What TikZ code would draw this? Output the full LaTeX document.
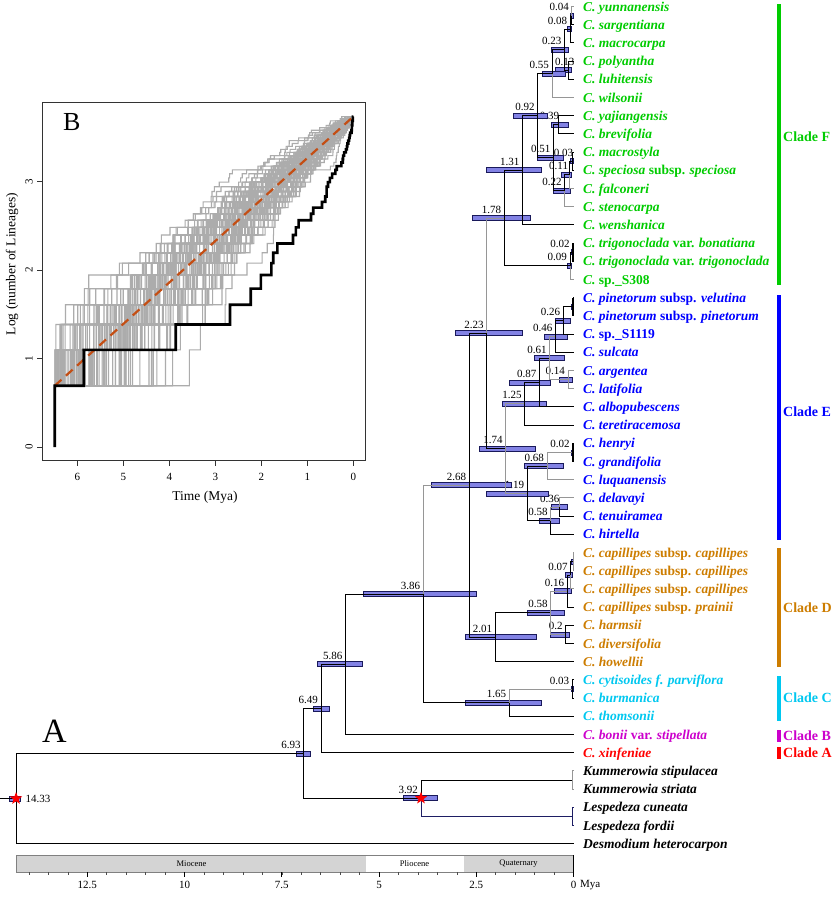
\documentclass[tikz,border=0pt]{standalone}
\usepackage{fontspec}
\setmainfont{Liberation Serif}
\usetikzlibrary{calc,shapes.geometric}
\definecolor{cladeF}{RGB}{0,204,0}
\definecolor{cladeE}{RGB}{0,0,255}
\definecolor{cladeD}{RGB}{205,125,0}
\definecolor{cladeC}{RGB}{0,200,240}
\definecolor{cladeB}{RGB}{204,0,204}
\definecolor{cladeA}{RGB}{255,0,0}
\definecolor{hpdfill}{RGB}{130,130,228}
\definecolor{hpdline}{RGB}{25,25,90}
\definecolor{brgray}{RGB}{150,150,150}
\definecolor{navyline}{RGB}{30,30,100}
\definecolor{geogray}{RGB}{212,212,212}
\definecolor{lttgray}{RGB}{172,172,172}
\definecolor{lttred}{RGB}{196,78,20}
\newcommand\up[1]{\textup{#1}}
\tikzset{
  br/.style={draw=black,line width=1pt},
  brg/.style={draw=brgray,line width=1pt},
  brn/.style={draw=navyline,line width=1pt},
  hpdst/.style={fill=hpdfill,draw=hpdline,line width=0.7pt},
  agel/.style={anchor=base east,inner sep=0pt,font=\fontsize{11}{12}\selectfont},
  tiplab/.style={anchor=base west,inner sep=0pt,xshift=9.5pt,yshift=-4.6pt,font=\fontsize{13.5}{15}\selectfont\bfseries\itshape},
  cladel/.style={anchor=west,inner sep=0pt,font=\fontsize{14}{15}\selectfont\bfseries},
  axl/.style={inner sep=0pt,font=\fontsize{11}{12}\selectfont},
  geol/.style={inner sep=0pt,font=\fontsize{8.5}{9}\selectfont},
  inl/.style={inner sep=0pt,font=\fontsize{11}{12}\selectfont},
  ttl/.style={inner sep=0pt,font=\fontsize{13.5}{15}\selectfont},
  lttline/.style={draw=lttgray,line width=1.1pt},
  redstar/.style={star,star points=5,star point ratio=2.4,fill=red,draw=none,minimum size=13pt,inner sep=0pt}
}
% optional #1 = extra x shift of the age label
\newcommand\ndx[7][0]{%
  \coordinate (#2) at ({573.5-38.9*#3},#4);
  \node[agel] (#2l) at ($(#2)+({#1-3},-5)$) {#7};
  \draw[hpdst] ({#5},{#4-2.5}) rectangle ({#6},{#4+2.5});}
\newcommand\brx[3][br]{\draw[#1] (#2) |- (#3);}
\newcommand\tipx[4]{%
  \coordinate (t#1) at (573.5,{6.5+(#1-1)*18.2});
  \node[tiplab,#2] (l#1) at (t#1) {#3#4};}
\newcommand\lttcurve{%
  \gdef\lttsum{0}%
  \foreach \k in {1,...,41}{%
    \pgfmathparse{-ln(0.0005+0.999*rnd)}%
    \global\expandafter\let\csname lttE\k\endcsname\pgfmathresult
    \pgfmathparse{\lttsum+\pgfmathresult}%
    \global\let\lttsum\pgfmathresult}%
  \gdef\lttcum{0}%
  \xdef\lttpath{(6.49,0.6931)}%
  \foreach \k in {1,...,40}{%
    \expandafter\let\expandafter\lttEk\csname lttE\k\endcsname
    \pgfmathparse{\lttcum+\lttEk}%
    \global\let\lttcum\pgfmathresult
    \pgfmathsetmacro\ltts{6.49*(1-ln(1+20*\lttcum/\lttsum)/ln(21))}%
    \pgfmathsetmacro\lttla{ln(\k+1)}%
    \pgfmathsetmacro\lttlb{ln(\k+2)}%
    \xdef\lttpath{\lttpath -- (\ltts,\lttla) -- (\ltts,\lttlb)}}%
  \draw[lttline] \lttpath -- (0,3.7377);}
\begin{document}
\begin{tikzpicture}[x=1pt,y=-1pt]
\useasboundingbox (0,0) rectangle (834,899);
\fill[white] (0,0) rectangle (834,899);
% ================= inset B =================
\begin{scope}[shift={(353.3,447)},x=-46pt,y=88.4pt]
  \pgfmathsetseed{4242}
  \foreach \c in {1,...,100}{\lttcurve}
  \draw[lttred,line width=2.2pt,dash pattern=on 9pt off 6pt] (6.49,0.6931) -- (0,3.7377);
  \xdef\lttpath{(6.49,0) -- (6.49,0.6931)}
  \foreach \a [count=\k] in {5.86,3.86,2.68,2.23,2.01,1.78,1.74,1.65,1.31,1.25,1.19,0.92,0.87,0.68,0.61,0.58,0.58,0.55,0.51,0.46,0.39,0.36,0.26,0.23,0.22,0.2,0.16,0.14,0.13,0.11,0.09,0.08,0.07,0.04,0.03,0.03,0.02,0.02,0.01,0.01}{%
    \pgfmathsetmacro\lttla{ln(\k+1)}%
    \pgfmathsetmacro\lttlb{ln(\k+2)}%
    \xdef\lttpath{\lttpath -- (\a,\lttla) -- (\a,\lttlb)}}
  \draw[black,line width=2.6pt] \lttpath -- (0,3.7377);
\end{scope}
\draw[black!80,line width=0.9pt] (42,102.5) rectangle (365,460);
\foreach \L [count=\i] in {0,1,2,3}{
  \draw[black!80,line width=0.7pt] (37,{447-88.4*\L}) -- (42,{447-88.4*\L});
  \node[inl,rotate=90] (yt\i) at (29,{447-88.4*\L}) {\L};}
\foreach \t [count=\i] in {0,1,2,3,4,5,6}{
  \draw[black!80,line width=0.7pt] ({353.3-46*\t},460) -- ({353.3-46*\t},466);
  \node[inl] (xt\i) at ({353.3-46*\t},477) {\t};}
\node[ttl] (xtitle) at (205,497) {Time (Mya)};
\node[ttl,rotate=90] (ytitle) at (12,264) {Log (number of Lineages)};
\node[anchor=base west,inner sep=0pt,font=\fontsize{26}{28}\selectfont] (labB) at (63,130) {B};
% ================= node labels and HPD bars =================
\ndx{fA}{0.04}{15.6}{570}{573.5}{0.04}
\ndx{fB}{0.08}{29.25}{567}{571.7}{0.08}
\ndx[9]{fC}{0.13}{70.2}{555.7}{571.7}{0.13}
\ndx{fD}{0.23}{49.7}{551.7}{568.3}{0.23}
\ndx{fE}{0.55}{73.6}{542.3}{565.7}{0.55}
\ndx[4]{fF}{0.39}{124.8}{551.7}{568.3}{0.39}
\ndx[4]{fG}{0.03}{161.2}{570.5}{573.5}{0.03}
\ndx[2]{fH}{0.11}{174.85}{561.7}{571.7}{0.11}
\ndx{fI}{0.22}{190.8}{553.3}{570.7}{0.22}
\ndx{fJ}{0.51}{157.8}{537.3}{563.3}{0.51}
\ndx{fK}{0.92}{115.7}{513.3}{547.3}{0.92}
\ndx{fL}{1.31}{170.3}{486}{541.7}{1.31}
\ndx{fM}{0.02}{252.2}{571.5}{573.5}{0.02}
\ndx{fN}{0.09}{265.85}{567.3}{571.7}{0.09}
\ndx{fO}{1.78}{218.1}{472.7}{530}{1.78}
\ndx{eA}{0.01}{306.8}{571.5}{573.5}{}
\ndx{eB}{0.26}{320.45}{555}{570.7}{0.26}
\ndx{eC}{0.46}{336.4}{544}{567.3}{0.46}
\ndx{eD}{0.14}{379.6}{559.3}{572}{0.14}
\ndx{eE}{0.61}{358.0}{534.3}{564.3}{0.61}
\ndx{eF}{0.87}{382.45}{509.3}{550}{0.87}
\ndx{eG}{1.25}{403.8}{502.3}{546.7}{1.25}
\ndx{eH}{0.02}{452.4}{571.5}{573.5}{0.02}
\ndx{eI}{0.68}{466.05}{524}{563.3}{0.68}
\ndx[3]{eJ}{0.36}{507.0}{551.7}{567.3}{0.36}
\ndx{eK}{0.58}{520.65}{539.3}{559.3}{0.58}
\ndx{eL}{1.19}{493.35}{486.3}{548.3}{1.19}
\ndx{eM}{1.74}{448.6}{479.3}{535.3}{1.74}
\ndx{bA}{2.23}{333.3}{455}{522.3}{2.23}
\ndx{dA}{0.01}{561.6}{571.5}{573.5}{}
\ndx{dB}{0.07}{575.25}{565.8}{572.2}{0.07}
\ndx{dC}{0.16}{591.2}{554.3}{571.4}{0.16}
\ndx{dD}{0.2}{634.4}{550.2}{569.2}{0.2}
\ndx{dE}{0.58}{612.8}{527.5}{564.7}{0.58}
\ndx{dF}{2.01}{637.25}{465.3}{536.8}{2.01}
\ndx{bB}{2.68}{485.3}{431}{511.7}{2.68}
\ndx{cA}{0.03}{689.0}{571}{573.5}{0.03}
\ndx{cB}{1.65}{702.65}{465}{541.7}{1.65}
\ndx{bC}{3.86}{594.0}{363.6}{476.4}{3.86}
\ndx{bD}{5.86}{664.25}{317.4}{362.6}{5.86}
\ndx{bE}{6.49}{708.5}{313.3}{329.3}{6.49}
\coordinate (oA) at (572,780.0);
\coordinate (oB) at (572,816.4);
\ndx{oC}{3.92}{798.2}{403}{437}{3.92}
\ndx{bF}{6.93}{753.35}{296}{310.7}{6.93}
\ndx{root}{14.33}{798.5}{9.6}{20.2}{}
\coordinate (stem) at (0,798.5);
% ================= tips =================
\tipx{1}{text=cladeF}{C. yunnanensis}{}
\tipx{2}{text=cladeF}{C. sargentiana}{}
\tipx{3}{text=cladeF}{C. macrocarpa}{}
\tipx{4}{text=cladeF}{C. polyantha}{}
\tipx{5}{text=cladeF}{C. luhitensis}{}
\tipx{6}{text=cladeF}{C. wilsonii}{}
\tipx{7}{text=cladeF}{C. yajiangensis}{}
\tipx{8}{text=cladeF}{C. brevifolia}{}
\tipx{9}{text=cladeF}{C. macrostyla}{}
\tipx{10}{text=cladeF}{C. speciosa \up{subsp.} speciosa}{}
\tipx{11}{text=cladeF}{C. falconeri}{}
\tipx{12}{text=cladeF}{C. stenocarpa}{}
\tipx{13}{text=cladeF}{C. wenshanica}{}
\tipx{14}{text=cladeF}{C. trigonoclada \up{var.} bonatiana}{}
\tipx{15}{text=cladeF}{C. trigonoclada \up{var.} trigonoclada}{}
\tipx{16}{text=cladeF}{C. \up{sp.\_S308}}{}
\tipx{17}{text=cladeE}{C. pinetorum \up{subsp.} velutina}{}
\tipx{18}{text=cladeE}{C. pinetorum \up{subsp.} pinetorum}{}
\tipx{19}{text=cladeE}{C. \up{sp.\_S1119}}{}
\tipx{20}{text=cladeE}{C. sulcata}{}
\tipx{21}{text=cladeE}{C. argentea}{}
\tipx{22}{text=cladeE}{C. latifolia}{}
\tipx{23}{text=cladeE}{C. albopubescens}{}
\tipx{24}{text=cladeE}{C. teretiracemosa}{}
\tipx{25}{text=cladeE}{C. henryi}{}
\tipx{26}{text=cladeE}{C. grandifolia}{}
\tipx{27}{text=cladeE}{C. luquanensis}{}
\tipx{28}{text=cladeE}{C. delavayi}{}
\tipx{29}{text=cladeE}{C. tenuiramea}{}
\tipx{30}{text=cladeE}{C. hirtella}{}
\tipx{31}{text=cladeD}{C. capillipes \up{subsp.} capillipes}{}
\tipx{32}{text=cladeD}{C. capillipes \up{subsp.} capillipes}{}
\tipx{33}{text=cladeD}{C. capillipes \up{subsp.} capillipes}{}
\tipx{34}{text=cladeD}{C. capillipes \up{subsp.} prainii}{}
\tipx{35}{text=cladeD}{C. harmsii}{}
\tipx{36}{text=cladeD}{C. diversifolia}{}
\tipx{37}{text=cladeD}{C. howellii}{}
\tipx{38}{text=cladeC}{C. cytisoides f. parviflora}{}
\tipx{39}{text=cladeC}{C. burmanica}{}
\tipx{40}{text=cladeC}{C. thomsonii}{}
\tipx{41}{text=cladeB}{C. bonii \up{var.} stipellata}{}
\tipx{42}{text=cladeA}{C. xinfeniae}{}
\tipx{43}{text=black}{Kummerowia stipulacea}{}
\tipx{44}{text=black}{Kummerowia striata}{}
\tipx{45}{text=black}{Lespedeza cuneata}{}
\tipx{46}{text=black}{Lespedeza fordii}{}
\tipx{47}{text=black}{Desmodium heterocarpon}{}
% ================= branches =================
\draw[br] (stem) -- (root);
\brx{root}{bF} \brx{root}{t47}
\brx{bF}{bE} \brx{bF}{oC}
\brx{oC}{oA} \brx[brn]{oC}{oB}
\brx[brg]{oA}{t43} \brx[brg]{oA}{t44}
\brx[brn]{oB}{t45} \brx[brn]{oB}{t46}
\brx{bE}{bD} \brx{bE}{t42}
\brx{bD}{bC} \brx{bD}{t41}
\brx[brg]{bC}{bB} \brx{bC}{cB}
\brx[brg]{cB}{cA} \brx{cB}{t40}
\brx{cA}{t38} \brx{cA}{t39}
\brx{bB}{bA} \brx{bB}{dF}
\brx{dF}{dE} \brx{dF}{t37}
\brx[brg]{dE}{dC} \brx[brg]{dE}{dD}
\brx{dD}{t35} \brx{dD}{t36}
\brx{dC}{dB} \brx{dC}{t34}
\brx{dB}{dA} \brx[brg]{dB}{t33}
\brx[brg]{dA}{t31} \brx[brg]{dA}{t32}
\brx[brg]{bA}{fO} \brx{bA}{eM}
\brx{fO}{fL} \brx{fO}{fN}
\brx{fN}{fM} \brx[brg]{fN}{t16}
\brx{fM}{t14} \brx{fM}{t15}
\brx{fL}{fK} \brx{fL}{t13}
\brx{fK}{fE} \brx{fK}{fJ}
\brx{fE}{fD} \brx[brg]{fE}{t6}
\brx{fD}{fB} \brx{fD}{fC}
\brx{fB}{fA} \brx{fB}{t3}
\brx[brg]{fA}{t1} \brx{fA}{t2}
\brx{fC}{t4} \brx{fC}{t5}
\brx{fJ}{fF} \brx{fJ}{fI}
\brx{fF}{t7} \brx{fF}{t8}
\brx{fI}{fH} \brx[brg]{fI}{t12}
\brx{fH}{fG} \brx[brg]{fH}{t11}
\brx{fG}{t9} \brx{fG}{t10}
\brx[brg]{eM}{eG} \brx[brg]{eM}{eL}
\brx{eG}{eF} \brx{eG}{t24}
\brx{eF}{eE} \brx{eF}{t23}
\brx[brg]{eE}{eC} \brx[brg]{eE}{eD}
\brx{eC}{eB} \brx{eC}{t20}
\brx{eB}{eA} \brx{eB}{t19}
\brx{eA}{t17} \brx{eA}{t18}
\brx[brg]{eD}{t21} \brx[brg]{eD}{t22}
\brx{eL}{eI} \brx{eL}{eK}
\brx[brg]{eI}{eH} \brx[brg]{eI}{t27}
\brx{eH}{t25} \brx{eH}{t26}
\brx[brg]{eK}{eJ} \brx{eK}{t30}
\brx[brg]{eJ}{t28} \brx{eJ}{t29}
\draw[br,line width=2.4pt] (t17 -| eA) -- (t18 -| eA);
\draw[br,line width=2.4pt] (t25 -| eH) -- (t26 -| eH);
\draw[br,line width=2.4pt] (t14 -| fM) -- (t15 -| fM);
% ================= stars =================
\node[redstar] (starR) at (root) {};
\node[redstar] (starO) at (oC) {};
\node[anchor=west,inner sep=0pt,font=\fontsize{11}{12}\selectfont] (rootlab) at (25.5,798.5) {14.33};
% ================= clade bars =================
\fill[cladeF] (777,4) rectangle (781,285);
\node[cladel,text=cladeF] (cFl) at (783,137) {Clade F};
\fill[cladeE] (777,295) rectangle (781,540);
\node[cladel,text=cladeE] (cEl) at (783,412) {Clade E};
\fill[cladeD] (777,547.7) rectangle (781,666.7);
\node[cladel,text=cladeD] (cDl) at (783,608) {Clade D};
\fill[cladeC] (777,676) rectangle (781,721);
\node[cladel,text=cladeC] (cCl) at (783,698) {Clade C};
\fill[cladeB] (777,730) rectangle (781,741.7);
\node[cladel,text=cladeB] (cBl) at (783,735.7) {Clade B};
\fill[cladeA] (777,747) rectangle (781,759);
\node[cladel,text=cladeA] (cAl) at (783,753) {Clade A};
% ================= time scale =================
\fill[geogray] (16,855) rectangle (366,872);
\fill[white] (366,855) rectangle (463.5,872);
\fill[geogray] (463.5,855) rectangle (573.5,872);
\draw[gray,line width=0.6pt] (16,855) rectangle (573.5,872);
\draw[black,line width=0.8pt] (573.5,855) -- (573.5,877);
\foreach \a in {0.5,1,...,14}{\draw[black!70,line width=0.5pt] ({573.5-38.9*\a},872) -- ++(0,3);}
\foreach \a in {2.5,5,7.5,10,12.5}{\draw[black,line width=0.7pt] ({573.5-38.9*\a},872) -- ++(0,5);}
\foreach \a/\t [count=\i] in {12.5/12.5,10/10,7.5/7.5,5/5,2.5/2.5,0/0}{\node[axl] (ax\i) at ({573.5-38.9*\a},885) {\t};}
\node[axl,anchor=west] (mya) at (580,885) {Mya};
\node[geol] (mio) at (191.5,864) {Miocene};
\node[geol] (plio) at (414.5,864) {Pliocene};
\node[geol] (quat) at (518.5,864) {Quaternary};
\node[anchor=base west,inner sep=0pt,font=\fontsize{34}{36}\selectfont] (labA) at (42,742) {A};
\end{tikzpicture}
\end{document}
